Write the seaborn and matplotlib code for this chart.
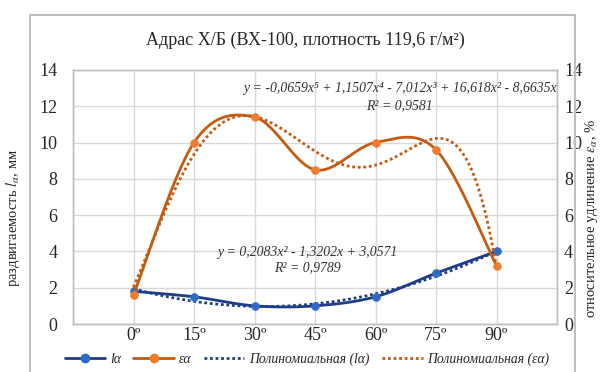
import numpy as np
import matplotlib
matplotlib.use("Agg")
import matplotlib.pyplot as plt
from matplotlib.lines import Line2D
import seaborn as sns

# data
angles = ["0º", "15º", "30º", "45º", "60º", "75º", "90º"]
l_alpha = [1.8, 1.5, 1.0, 1.0, 1.5, 2.8, 4.0]
eps_alpha = [1.6, 10.0, 11.4, 8.5, 10.0, 9.6, 3.2]

# trendline labels as printed on the chart
l_eq = "y = 0,2083x² - 1,3202x + 3,0571"
l_r2 = "R² = 0,9789"
eps_eq = "y = -0,0659x⁵ + 1,1507x⁴ - 7,012x³ + 16,618x² - 8,6635x"
eps_r2 = "R² = 0,9581"

BLUE_LINE = "#1f3c88"
BLUE_MARK = "#2e6bc2"
ORANGE_LINE = "#c55a11"
ORANGE_MARK = "#ed7d31"
GRID = "#d9d9d9"
TEXT = "#262626"


def smooth(xs, ys, n=30):
    """Excel-like smoothed line (Catmull-Rom style bezier through the points)."""
    p = np.column_stack([xs, ys]).astype(float)
    ext = np.vstack([p[0], p, p[-1]])
    t = np.linspace(0, 1, n)[:, None]
    out = []
    for i in range(len(p) - 1):
        p0, p1, p2, p3 = ext[i], ext[i + 1], ext[i + 2], ext[i + 3]
        c1 = p1 + (p2 - p0) / 6
        c2 = p2 - (p3 - p1) / 6
        seg = ((1 - t) ** 3 * p1 + 3 * (1 - t) ** 2 * t * c1
               + 3 * (1 - t) * t ** 2 * c2 + t ** 3 * p2)
        out.append(seg if i == 0 else seg[1:])
    out = np.vstack(out)
    return out[:, 0], out[:, 1]


sns.set_theme(style="whitegrid")
plt.rcParams["font.family"] = ["Liberation Serif", "DejaVu Serif"]
plt.rcParams["mathtext.fontset"] = "stix"

fig = plt.figure(figsize=(6, 3.72), dpi=100)
ax = fig.add_axes([0.1217, 0.129, 0.8067, 0.683])
ax2 = ax.twinx()

x = np.arange(1, len(angles) + 1)
xf = np.linspace(1, len(angles), 200)

# polynomial trendlines, fitted like Excel (eps one with zero intercept)
l_fit = np.polyfit(x, l_alpha, 2)
A = np.column_stack([x ** k for k in range(5, 0, -1)]).astype(float)
eps_fit = np.append(np.linalg.lstsq(A, np.array(eps_alpha), rcond=None)[0], 0.0)

# primary axis: l_alpha
sx, sy = smooth(x, l_alpha)
sns.lineplot(x=xf, y=np.polyval(l_fit, xf), ax=ax, color=BLUE_LINE,
             linestyle=(0, (1, 1)), linewidth=2, sort=False, estimator=None)
ax.plot(sx, sy, color=BLUE_LINE, linewidth=2)
sns.scatterplot(x=x, y=l_alpha, ax=ax, color=BLUE_MARK, s=32,
                edgecolor=BLUE_MARK, zorder=5)

# secondary axis: eps_alpha
sx, sy = smooth(x, eps_alpha)
sns.lineplot(x=xf, y=np.polyval(eps_fit, xf), ax=ax2, color=ORANGE_LINE,
             linestyle=(0, (1, 1)), linewidth=2, sort=False, estimator=None)
ax2.plot(sx, sy, color=ORANGE_LINE, linewidth=2)
sns.scatterplot(x=x, y=eps_alpha, ax=ax2, color=ORANGE_MARK, s=32,
                edgecolor=ORANGE_MARK, zorder=5)

for a in (ax, ax2):
    a.set_ylim(0, 14)
    a.set_yticks(range(0, 15, 2))
    a.set_xlim(0, len(angles) + 1)

ax.set_xticks(range(0, len(angles) + 2))
ax.set_xticklabels([""] + angles + [""])
ax.grid(True, color=GRID, linewidth=1)
ax2.grid(False)
ax.tick_params(axis="x", length=0, pad=2, labelsize=13, colors=TEXT)
ax.tick_params(axis="y", length=0, pad=11, labelsize=13, colors=TEXT)
ax2.tick_params(axis="y", length=0, pad=5, labelsize=13, colors=TEXT)
for a in (ax, ax2):
    for s in a.spines.values():
        s.set_color("#bfbfbf")
        s.set_linewidth(1)

ax.set_ylabel("раздвигаемость $l_{\\alpha}$, мм", fontsize=10.5, color=TEXT)
ax.yaxis.set_label_coords(-0.105, 0.417)
ax2.set_ylabel("относительное удлинение $\\varepsilon_{\\alpha}$, %",
               fontsize=10.5, color=TEXT, rotation=90)
ax2.yaxis.set_label_coords(1.053, 0.417)

# trendline equations
ax2.text(5.4, 12.97, eps_eq, ha="center", va="center", fontsize=9.9,
         style="italic", color="#333333")
ax2.text(5.4, 12.03, eps_r2, ha="center", va="center", fontsize=9.9,
         style="italic", color="#333333")
ax.text(3.87, 3.96, l_eq, ha="center", va="center", fontsize=9.9,
        style="italic", color="#333333")
ax.text(3.87, 3.08, l_r2, ha="center", va="center", fontsize=9.9,
        style="italic", color="#333333")

fig.text(305 / 600, 1 - 40 / 372, "Адрас Х/Б (ВХ-100, плотность 119,6 г/м²)",
         ha="center", va="center", fontsize=13, color=TEXT)

handles = [
    Line2D([], [], color=BLUE_LINE, linewidth=2, marker="o", markersize=6,
           markerfacecolor=BLUE_MARK, markeredgecolor=BLUE_MARK),
    Line2D([], [], color=ORANGE_LINE, linewidth=2, marker="o", markersize=6,
           markerfacecolor=ORANGE_MARK, markeredgecolor=ORANGE_MARK),
    Line2D([], [], color=BLUE_LINE, linewidth=2, linestyle=(0, (1, 1))),
    Line2D([], [], color=ORANGE_LINE, linewidth=2, linestyle=(0, (1, 1))),
]
labels = ["lα", "εα", "Полиномиальная (lα)", "Полиномиальная (εα)"]
fig.legend(handles, labels, loc="center", bbox_to_anchor=(307 / 600, 0.035),
           ncol=4, frameon=False, handlelength=3.0, columnspacing=0.9,
           handletextpad=0.35, prop={"style": "italic", "size": 9.8})

# outer chart border (bottom edge runs off the image)
for xs_, ys_ in [((30, 30), (0, 357)), ((575, 575), (0, 357)),
                 ((30, 575), (357, 357))]:
    fig.add_artist(Line2D(np.array(xs_) / 600, np.array(ys_) / 372,
                          color="#bfbfbf", linewidth=1.5,
                          transform=fig.transFigure))

fig.savefig("out.png", dpi=100)
